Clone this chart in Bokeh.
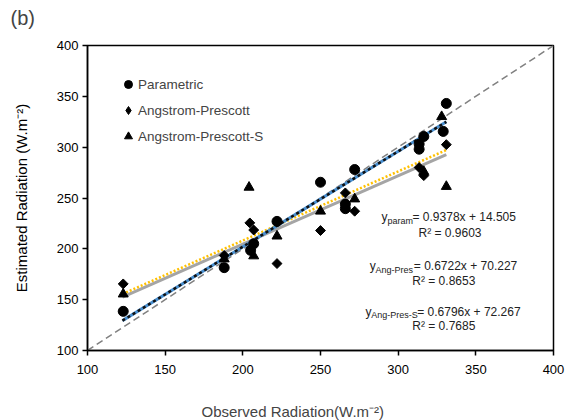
import math
from bokeh.plotting import figure
from bokeh.models import (Range1d, FixedTicker, Legend, LegendItem, Title)
from bokeh.core.properties import value
from bokeh.embed import file_html
from bokeh.resources import INLINE

# ---------------- data ----------------
param_obs = [123, 188, 205, 207, 222, 250, 266, 266, 272, 313.5, 313.5, 316.5, 329, 331]
param_est = [138.5, 181.5, 198.5, 205, 227, 265.5, 244, 239.5, 278, 303, 298, 310.5, 315.5, 343]

ap_obs = [123, 188, 204.5, 207, 222, 250, 266, 272, 313.5, 316.5, 331]
ap_est = [165.5, 193.5, 225.5, 218.5, 185.5, 218, 255, 237, 280, 272, 302.5]

aps_obs = [123, 188, 204, 207, 222, 250, 272, 316.5, 328, 331]
aps_est = [155.5, 190, 260.5, 193, 212.5, 237, 249, 276, 330, 261.3]

fit_x = [122.5, 331]
fit_param = (0.9378, 14.505)
fit_ap = (0.6722, 70.227)
fit_aps = (0.6796, 72.267)
one_to_one = [100, 400]

ticks = [100, 150, 200, 250, 300, 350, 400]

eq_main = ["= 0.9378x  + 14.505", "= 0.6722x  + 70.227", "= 0.6796x  + 72.267"]
eq_sub = ["param", "Ang-Pres", "Ang-Pres-S"]
eq_r2 = ["R\u00b2 = 0.9603", "R\u00b2 = 0.8653", "R\u00b2 = 0.7685"]
# annotation anchor positions (data units)
eq_y_left = [289.27, 281.74, 278.97]
eq_sub_left = [293.13, 285.41, 282.64]
eq_main_left = [309.23, 310.07, 312.25]
eq_mid = [230.82, 182.92, 138.36]
eq_sub_mid = [226.89, 178.69, 134.43]
r2_x = [333.37, 329.38, 329.38]
r2_y = [215.77, 168.16, 123.61]

FONT = "Liberation Sans"

p = figure(width=571, height=420, output_backend="svg", toolbar_location=None,
           x_range=Range1d(100, 400), y_range=Range1d(100, 400),
           min_border_left=87, min_border_right=18, min_border_top=45, min_border_bottom=70)
p.grid.visible = False
p.outline_line_color = "black"
p.outline_line_width = 1.5
p.background_fill_color = "white"
p.border_fill_color = "white"

for ax in (p.xaxis[0], p.yaxis[0]):
    ax.ticker = FixedTicker(ticks=ticks)
    ax.axis_line_color = "black"
    ax.axis_line_width = 1.5
    ax.major_tick_line_color = "black"
    ax.major_tick_line_width = 1.5
    ax.major_tick_out = 5
    ax.major_tick_in = 0
    ax.minor_tick_line_color = None
    ax.major_label_text_font = FONT
    ax.major_label_text_font_size = "13px"
    ax.major_label_text_color = "black"
    ax.axis_label_text_font = FONT
    ax.axis_label_text_font_size = "15px"
    ax.axis_label_text_font_style = "normal"
    ax.axis_label_text_color = "black"

p.xaxis.major_label_standoff = 9
p.yaxis.major_label_standoff = 4
p.yaxis.axis_label = "Estimated Radiation (W.m\u207b\u00b2)"
p.yaxis.axis_label_standoff = 24

# 1:1 line
p.line(one_to_one, one_to_one, line_color="#808080", line_width=1.5, line_dash="7 4")

# trendlines
def fy(fit):
    return [fit[0] * x + fit[1] for x in fit_x]

p.line(fit_x, fy(fit_ap), line_color="#A5A5A5", line_width=3)
p.line(fit_x, fy(fit_aps), line_color="#FFC000", line_width=2.5, line_dash="2 2")
p.line(fit_x, fy(fit_param), line_color="#4A90D0", line_width=3)
p.line(fit_x, fy(fit_param), line_color="#111111", line_width=2.5, line_dash="3 3")

# points
r_param = p.scatter(param_obs, param_est, marker="circle", size=10, color="black")
# diamond key renderer (hidden underneath the rotated squares, used for the legend glyph)
r_ap_key = p.scatter(ap_obs, ap_est, marker="diamond", size=7, color="black")
r_ap = p.scatter(ap_obs, ap_est, marker="square", size=7, angle=math.pi / 4, color="black")
r_aps = p.scatter(aps_obs, aps_est, marker="triangle", size=10, color="black")

legend = Legend(items=[LegendItem(label="Parametric", renderers=[r_param]),
                       LegendItem(label="Angstrom-Prescott", renderers=[r_ap_key]),
                       LegendItem(label="Angstrom-Prescott-S", renderers=[r_aps])],
                location=(31, 204), padding=0, margin=0, spacing=6,
                glyph_width=20, glyph_height=20, label_height=20, label_standoff=0,
                label_text_font=FONT, label_text_font_size="13.5px",
                background_fill_alpha=0, border_line_color=None)
p.add_layout(legend, "center")

# equation annotations
p.text(x=eq_y_left, y=eq_mid, text=["y"] * 3, text_font=value(FONT), text_font_size="12px",
       text_align="left", text_baseline="middle", text_color="#222222")
p.text(x=eq_sub_left, y=eq_sub_mid, text=eq_sub, text_font=value(FONT), text_font_size="9px",
       text_align="left", text_baseline="middle", text_color="#222222")
p.text(x=eq_main_left, y=eq_mid, text=eq_main, text_font=value(FONT), text_font_size="12px",
       text_align="left", text_baseline="middle", text_color="#222222")
p.text(x=r2_x, y=r2_y, text=eq_r2, text_font=value(FONT), text_font_size="12px",
       text_align="center", text_baseline="middle", text_color="#222222")

# panel label "(b)" above (spacer panel first, nearest the frame)
p.add_layout(Title(text=" ", text_font_size="1px", standoff=14), "above")
p.add_layout(Title(text="(b)", align="left", offset=-77, text_font=FONT,
                   text_font_size="20px", text_font_style="normal", standoff=0), "above")
# x-axis label below, shifted left like the original
p.add_layout(Title(text=" ", text_font_size="1px", standoff=21), "below")
p.add_layout(Title(text="Observed Radiation(W.m\u207b\u00b2)", align="left", offset=114,
                   text_font=FONT, text_font_size="15px", text_font_style="normal",
                   standoff=0), "below")

open("out.html", "w").write(file_html(p, INLINE))
